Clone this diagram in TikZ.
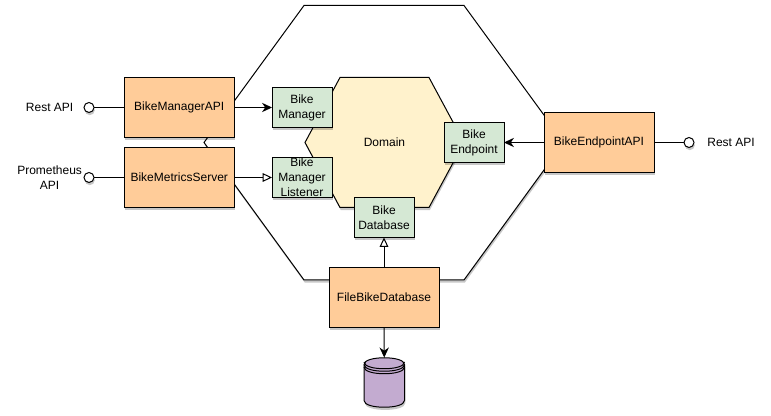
\documentclass[tikz,border=0pt]{standalone}
\usepackage{fontspec}
\setmainfont{Liberation Sans}
\usetikzlibrary{arrows.meta,shadows}

\tikzset{
  softshadow/.style={drop shadow={shadow xshift=0.6pt,shadow yshift=-2pt,opacity=.22,fill=black}},
  hexa/.style={draw=black,line width=0.75pt,softshadow},
  adapterbox/.style={draw=black,line width=0.75pt,fill=adapterfill,minimum width=82.5pt,minimum height=45pt,inner sep=0pt,outer sep=0pt,softshadow},
  portbox/.style={draw=black,line width=0.75pt,fill=portfill,minimum width=45pt,minimum height=30pt,inner sep=0pt,outer sep=0pt,align=center,softshadow},
  lollipop/.style={circle,draw=black,line width=0.75pt,fill=white,minimum size=7.5pt,inner sep=0pt,outer sep=0pt,softshadow},
  wire/.style={draw=black,line width=0.75pt},
  calls/.style={wire,-{Stealth[length=7.5pt,width=7pt]}},
  implements/.style={wire,-{Triangle[open,length=7pt,width=6.5pt]}}
}
\definecolor{adapterfill}{HTML}{FFCC99}
\definecolor{portfill}{HTML}{D5E8D4}
\definecolor{domainfill}{HTML}{FFF2CC}
\definecolor{storefill}{HTML}{C3ABD0}

\begin{document}
\begin{tikzpicture}[x=0.75pt,y=-0.75pt,font=\fontsize{9}{11.25}\selectfont]
\useasboundingbox (0,0) rectangle (771,416);

% hexagons
\draw[hexa,fill=white] (304,5.5) -- (464,5.5) -- (564,142.5) -- (464,280) -- (304,280) -- (204,142.5) -- cycle;
\draw[hexa,fill=domainfill] (340,77.5) -- (429,77.5) -- (464,142.5) -- (429,207.5) -- (340,207.5) -- (305,142.5) -- cycle;
\node (domain) at (384.5,142.5) {Domain};

% ports
\node[portbox] (managerport) at (302,107.5) {Bike\\Manager};
\node[portbox,label={[align=center]center:Bike\\Manager\\Listener}] (listenerport) at (302,177.5) {};
\node[portbox] (endpointport) at (474,142.5) {Bike\\Endpoint};
\node[portbox] (databaseport) at (384,217.5) {Bike\\Database};

% adapters
\node[adapterbox] (managerapi) at (179.25,107.5) {BikeManagerAPI};
\node[adapterbox] (metricsserver) at (179.25,177.5) {BikeMetricsServer};
\node[adapterbox] (endpointapi) at (599,142.5) {BikeEndpointAPI};
\node[adapterbox] (filedatabase) at (384,297.5) {FileBikeDatabase};

% exposed interfaces
\node[lollipop,label={[label distance=4.5pt]west:Rest API}] (restleft) at (89,107.5) {};
\node[lollipop,label={[align=center,label distance=-2pt]west:Prometheus\\API}] (prometheus) at (89,177.5) {};
\node[lollipop,label={[label distance=6.5pt]east:Rest API}] (restright) at (689,142.5) {};

% storage
\draw[hexa,fill=storefill] (364,364.5) .. controls (364,355.5) and (404.5,355.5) .. (404.5,364.5) -- (404.5,400.5) .. controls (404.5,409.5) and (364,409.5) .. (364,400.5) -- cycle;
\draw[wire] (364,362) .. controls (364,371) and (404.5,371) .. (404.5,362);
\draw[wire] (364,364.5) .. controls (364,373.5) and (404.5,373.5) .. (404.5,364.5);
\draw[wire] (364,367) .. controls (364,376) and (404.5,376) .. (404.5,367);
\coordinate (storetop) at (384.25,357.5);

% connectors
\draw[wire] (restleft) -- (managerapi);
\draw[wire] (prometheus) -- (metricsserver);
\draw[wire] (endpointapi) -- (restright);
\draw[calls] (managerapi) -- (managerport);
\draw[implements] (metricsserver) -- (listenerport);
\draw[calls] (endpointapi) -- (endpointport);
\draw[implements] (filedatabase) -- (databaseport);
\draw[calls] (filedatabase) -- (storetop);
\end{tikzpicture}
\end{document}
